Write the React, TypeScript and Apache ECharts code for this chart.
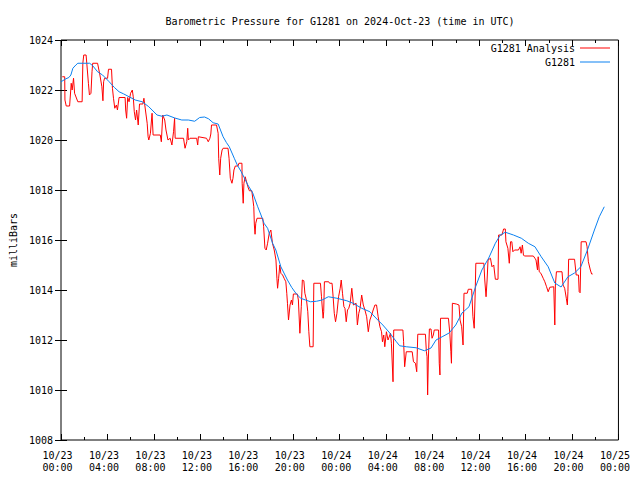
import React, { useEffect, useRef } from "react";
import * as echarts from "echarts";

const TITLE = "Barometric Pressure for G1281 on 2024-Oct-23 (time in UTC)";
const Y_NAME = "milliBars";
const SERIES_NAMES = ["G1281 Analysis", "G1281"];
const X_TICK_DAYS = ["10/23", "10/23", "10/23", "10/23", "10/23", "10/23", "10/24", "10/24", "10/24", "10/24", "10/24", "10/24", "10/25"];
const X_TICK_TIMES = ["00:00", "04:00", "08:00", "12:00", "16:00", "20:00", "00:00", "04:00", "08:00", "12:00", "16:00", "20:00", "00:00"];

// hours since 2024-10-23 00:00 UTC
const redHours = [
  0.11, 0.32, 0.34, 0.45, 0.74, 0.88, 0.96, 1.08, 1.17, 1.45, 1.82, 1.88, 1.96, 2.16, 2.22, 2.36, 2.45, 2.58, 2.67, 2.73,
  3.15, 3.35, 3.52, 3.61, 3.67, 3.75, 4.01, 4.09, 4.35, 4.43, 4.52, 4.63, 4.77, 4.86, 5.0, 5.52, 5.57, 5.65, 5.74, 5.86,
  5.99, 6.14, 6.22, 6.31, 6.42, 6.51, 6.65, 6.76, 7.05, 7.14, 7.27, 7.42, 7.5, 7.56, 7.7, 7.84, 7.93, 8.55, 8.64, 8.76,
  8.93, 9.04, 9.21, 9.4, 9.55, 9.69, 9.78, 9.83, 10.55, 10.68, 10.83, 10.91, 10.97, 11.11, 11.68, 11.77, 11.83, 12.53, 12.68, 12.82,
  12.9, 12.96, 13.39, 13.53, 13.58, 13.67, 13.75, 13.87, 13.96, 14.38, 14.47, 14.58, 14.72, 14.81, 14.89, 15.01, 15.24, 15.32, 15.58, 15.6,
  15.69, 15.75, 15.86, 16.09, 16.22, 16.43, 16.6, 16.65, 16.71, 16.77, 16.88, 17.37, 17.45, 17.56, 17.67, 17.79, 17.93, 18.07, 18.21, 18.36,
  18.51, 18.59, 18.65, 18.74, 18.84, 18.93, 19.08, 19.21, 19.36, 19.44, 19.5, 19.59, 19.72, 19.84, 19.93, 20.01, 20.35, 20.44, 20.57, 20.63,
  20.69, 20.78, 20.91, 21.0, 21.14, 21.25, 21.34, 21.43, 21.71, 21.77, 22.34, 22.43, 22.48, 22.57, 22.62, 22.68, 23.05, 23.13, 23.34, 23.42,
  23.53, 23.64, 23.76, 23.9, 24.04, 24.13, 24.24, 24.36, 24.45, 24.56, 24.67, 24.78, 24.9, 25.04, 25.18, 25.41, 25.52, 25.64, 25.75, 25.89,
  26.03, 26.17, 26.32, 26.46, 26.6, 26.75, 26.88, 27.03, 27.17, 27.31, 27.46, 27.6, 27.68, 27.79, 27.88, 28.02, 28.16, 28.37, 28.45, 28.59,
  28.65, 29.44, 29.5, 29.59, 29.73, 30.24, 30.35, 30.52, 30.63, 30.72, 31.38, 31.46, 31.52, 31.57, 31.63, 31.72, 31.86, 31.95, 32.06, 32.14,
  32.51, 32.57, 32.63, 32.68, 33.36, 33.48, 33.57, 33.62, 33.7, 34.04, 34.27, 34.36, 34.5, 34.62, 34.7, 34.98, 35.07, 35.36, 35.47, 35.58,
  35.66, 35.72, 36.41, 36.49, 36.6, 36.69, 36.77, 36.98, 37.11, 37.26, 37.4, 37.63, 37.68, 37.97, 38.11, 38.26, 38.31, 38.48, 38.6, 38.71,
  38.82, 38.91, 39.05, 39.39, 39.53, 39.62, 39.73, 39.82, 39.9, 40.67, 40.81, 40.9, 41.03, 41.09, 41.18, 41.32, 41.52, 41.66, 41.81, 41.95,
  42.09, 42.43, 42.52, 42.57, 42.66, 43.14, 43.23, 43.37, 43.51, 43.6, 43.65, 43.71, 44.22, 44.36, 44.56, 44.62, 44.7, 44.79, 45.21, 45.3,
  45.41, 45.58, 45.69, 45.78,
];
const redValues = [
  1022.53, 1022.53, 1021.6, 1021.36, 1021.36, 1022.27, 1022.0, 1022.47, 1021.87, 1021.53, 1021.53, 1023.07, 1023.4, 1023.4, 1023.07, 1022.27, 1021.8, 1021.87, 1022.73, 1023.07,
  1023.07, 1022.6, 1022.13, 1021.57, 1022.33, 1022.47, 1022.47, 1022.83, 1022.83, 1022.07, 1021.67, 1021.27, 1021.4, 1021.2, 1021.7, 1021.7, 1021.2, 1020.87, 1021.7, 1021.53,
  1021.87, 1022.0, 1021.73, 1021.13, 1020.8, 1021.2, 1020.6, 1021.44, 1021.44, 1021.67, 1021.2, 1020.67, 1020.13, 1020.0, 1020.27, 1021.07, 1020.2, 1020.2, 1019.93, 1021.0,
  1020.8, 1020.4, 1020.0, 1020.07, 1019.8, 1020.33, 1020.87, 1020.07, 1020.07, 1019.67, 1019.93, 1020.47, 1020.0, 1020.07, 1020.07, 1019.8, 1020.13, 1020.07, 1019.93, 1020.07,
  1020.24, 1020.6, 1020.6, 1020.27, 1019.27, 1018.6, 1019.27, 1019.6, 1019.67, 1019.67, 1019.27, 1018.47, 1018.27, 1018.47, 1018.8, 1018.96, 1018.96, 1019.07, 1019.07, 1018.27,
  1017.47, 1018.27, 1018.53, 1018.13, 1017.97, 1017.97, 1017.33, 1016.6, 1016.23, 1016.67, 1016.87, 1016.87, 1016.53, 1015.67, 1015.6, 1015.87, 1016.27, 1016.4, 1015.87, 1015.6,
  1015.2, 1014.47, 1014.07, 1014.47, 1015.0, 1014.67, 1014.6, 1014.47, 1014.33, 1013.87, 1013.47, 1012.8, 1013.4, 1013.6, 1013.4, 1013.84, 1013.84, 1013.6, 1012.27, 1012.8,
  1013.33, 1014.4, 1014.37, 1013.87, 1013.6, 1013.13, 1012.33, 1011.73, 1011.73, 1014.27, 1014.27, 1013.73, 1013.4, 1012.87, 1013.13, 1014.33, 1014.33, 1014.27, 1014.27, 1013.8,
  1013.07, 1012.73, 1013.07, 1013.73, 1014.07, 1014.4, 1013.87, 1013.33, 1013.27, 1012.73, 1013.2, 1013.27, 1013.47, 1014.07, 1013.4, 1013.47, 1012.6, 1013.07, 1013.27, 1013.8,
  1013.4, 1013.2, 1012.93, 1012.33, 1012.8, 1013.0, 1013.2, 1013.4, 1013.4, 1012.93, 1012.53, 1012.33, 1011.93, 1012.2, 1011.73, 1012.33, 1012.0, 1012.27, 1011.87, 1010.33,
  1012.4, 1012.4, 1011.93, 1010.93, 1011.53, 1011.53, 1011.13, 1011.07, 1010.73, 1012.23, 1012.23, 1011.53, 1011.33, 1009.8, 1011.2, 1012.44, 1012.44, 1012.07, 1012.2, 1012.4,
  1012.4, 1011.07, 1010.6, 1012.87, 1012.87, 1012.27, 1011.53, 1011.07, 1013.47, 1013.44, 1013.4, 1012.8, 1012.53, 1011.8, 1013.87, 1013.87, 1014.03, 1014.03, 1012.93, 1012.47,
  1013.8, 1015.07, 1015.07, 1014.4, 1013.73, 1014.4, 1015.2, 1015.27, 1014.93, 1015.0, 1014.43, 1014.43, 1016.2, 1016.2, 1016.44, 1016.44, 1015.93, 1015.67, 1015.07, 1015.93,
  1015.93, 1015.53, 1015.6, 1015.6, 1015.73, 1015.47, 1015.8, 1015.4, 1015.36, 1015.36, 1015.27, 1015.2, 1014.8, 1015.33, 1014.73, 1014.67, 1014.47, 1014.33, 1014.13, 1013.93,
  1014.11, 1014.13, 1012.6, 1014.2, 1014.73, 1014.73, 1014.2, 1014.07, 1013.67, 1013.4, 1013.93, 1015.23, 1015.23, 1014.6, 1014.6, 1013.93, 1013.89, 1015.93, 1015.93, 1015.73,
  1015.13, 1014.8, 1014.64, 1014.64,
];

const blueHours = [
  0, 0.43, 0.68, 0.85, 1.02, 1.28, 1.45, 2.47, 2.73, 3.15, 3.58, 4.15, 4.6, 5.0, 5.37, 5.86, 6.39, 6.99, 7.56, 8.27,
  8.7, 9.12, 9.8, 10.4, 10.97, 11.51, 11.94, 12.36, 12.7, 13.1, 13.53, 13.96, 14.24, 14.49, 14.92, 15.18, 15.52, 15.77, 16.09, 16.51,
  16.94, 17.22, 17.48, 17.79, 18.22, 18.5, 18.93, 19.5, 19.87, 20.21, 20.63, 21.06, 21.49, 22.0, 22.48, 23.02, 23.76, 24.61, 25.15, 25.89,
  26.6, 27.28, 27.71, 28.31, 28.88, 29.16, 29.73, 30.58, 31.29, 31.86, 32.29, 32.82, 33.42, 33.99, 34.53, 35.13, 35.7, 36.24, 36.83, 37.4,
  37.83, 38.26, 38.96, 39.64, 40.24, 40.81, 41.35, 41.95, 42.52, 43.06, 43.65, 44.22, 44.76, 45.33, 45.93, 46.35, 46.78,
];
const blueValues = [
  1022.33, 1022.45, 1022.5, 1022.6, 1022.87, 1023.0, 1023.07, 1023.07, 1022.97, 1022.73, 1022.6, 1022.33, 1022.1, 1021.93, 1021.85, 1021.73, 1021.6, 1021.53, 1021.33, 1021.0,
  1020.95, 1021.0, 1020.88, 1020.8, 1020.8, 1020.75, 1020.9, 1020.92, 1020.85, 1020.69, 1020.64, 1020.13, 1019.9, 1019.73, 1019.27, 1019.0, 1018.73, 1018.5, 1018.2, 1017.88,
  1017.33, 1017.0, 1016.67, 1016.47, 1015.87, 1015.6, 1014.93, 1014.4, 1014.1, 1013.88, 1013.67, 1013.6, 1013.53, 1013.55, 1013.6, 1013.73, 1013.67, 1013.57, 1013.47, 1013.27,
  1013.13, 1012.8, 1012.6, 1012.28, 1011.93, 1011.77, 1011.73, 1011.69, 1011.57, 1011.68, 1012.0, 1012.13, 1012.28, 1012.6, 1013.08, 1013.33, 1014.13, 1014.8, 1015.28, 1015.87,
  1016.2, 1016.31, 1016.2, 1016.07, 1015.87, 1015.73, 1015.33, 1014.93, 1014.28, 1014.12, 1014.53, 1014.68, 1014.93, 1015.6, 1016.4, 1016.93, 1017.33,
];

const Y_MIN = 1008;
const Y_MAX = 1024;
const Y_STEP = 2;
const X_MIN = 0;
const X_MAX = 48;
const X_STEP = 4;

const FONT = "DejaVu Sans Mono";

export default function App() {
  const ref = useRef<HTMLDivElement>(null);
  useEffect(() => {
    if (!ref.current) return;
    const chart = echarts.init(ref.current, null, { renderer: "svg" });
    const tickLabel = (v: number) => {
      const i = Math.round((v - X_MIN) / X_STEP);
      return (X_TICK_DAYS[i] ?? "") + "\n" + (X_TICK_TIMES[i] ?? "");
    };
    const xCommon = {
      type: "value" as const,
      min: X_MIN,
      max: X_MAX,
      interval: X_STEP,
      axisLine: { show: false },
      splitLine: { show: false },
      axisTick: { show: true, inside: true, length: 6, lineStyle: { color: "#000" } },
      minorTick: { show: true, splitNumber: 2, length: 3, lineStyle: { color: "#000" } },
    };
    const yCommon = {
      type: "value" as const,
      min: Y_MIN,
      max: Y_MAX,
      interval: Y_STEP,
      axisLine: { show: false },
      splitLine: { show: false },
      axisTick: { show: true, inside: true, length: 6, lineStyle: { color: "#000" } },
    };
    chart.setOption({
      animation: false,
      backgroundColor: "#fff",
      title: {
        text: TITLE,
        left: 335,
        textAlign: "center",
        top: 11,
        textStyle: { fontFamily: FONT, fontSize: 10, fontWeight: "normal", color: "#000" },
      },
      legend: {
        orient: "vertical",
        right: 30,
        top: 41,
        padding: 0,
        align: "right",
        itemGap: 0,
        itemWidth: 30,
        itemHeight: 1,
        icon: "rect",
        data: SERIES_NAMES,
        textStyle: { fontFamily: FONT, fontSize: 10, color: "#000", lineHeight: 14, padding: [0, 0, 0, 0] },
      },
      grid: {
        left: 58,
        right: 19,
        top: 40,
        bottom: 40,
        show: true,
        borderColor: "#000",
        borderWidth: 1,
        backgroundColor: "transparent",
      },
      xAxis: [
        {
          ...xCommon,
          position: "bottom",
          axisLabel: {
            show: true,
            formatter: tickLabel,
            fontFamily: FONT,
            fontSize: 10,
            color: "#000",
            lineHeight: 12,
            margin: 9,
            padding: [0, 7, 0, 0],
          },
        },
        { ...xCommon, position: "top", axisLabel: { show: false } },
      ],
      yAxis: [
        {
          ...yCommon,
          position: "left",
          name: Y_NAME,
          nameLocation: "middle",
          nameGap: 43,
          nameTextStyle: { fontFamily: FONT, fontSize: 10, color: "#000" },
          axisLabel: {
            show: true,
            formatter: (v: number) => String(v),
            fontFamily: FONT,
            fontSize: 10,
            color: "#000",
            margin: 8,
          },
        },
        { ...yCommon, position: "right", axisLabel: { show: false } },
      ],
      series: [
        {
          name: SERIES_NAMES[0],
          type: "line",
          showSymbol: false,
          symbol: "none",
          data: redHours.map((h, i) => [h, redValues[i]]),
          lineStyle: { color: "#ff0000", width: 1 },
          itemStyle: { color: "#ff0000" },
        },
        {
          name: SERIES_NAMES[1],
          type: "line",
          showSymbol: false,
          symbol: "none",
          data: blueHours.map((h, i) => [h, blueValues[i]]),
          lineStyle: { color: "#0a80f0", width: 1 },
          itemStyle: { color: "#0a80f0" },
        },
      ],
    });
    return () => chart.dispose();
  }, []);
  return <div ref={ref} style={{ width: 640, height: 480, position: "absolute", left: 0, top: 0 }} />;
}
